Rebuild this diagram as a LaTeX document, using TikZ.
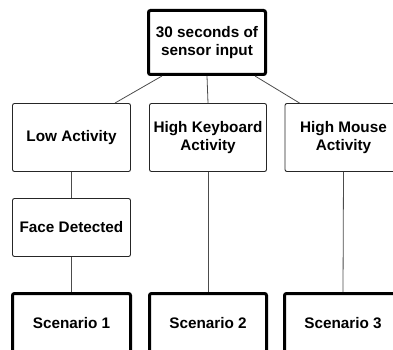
\documentclass[tikz,border=0pt]{standalone}
\usepackage{fontspec}
\setmainfont{Liberation Sans}
\begin{document}
\begin{tikzpicture}[x=1pt,y=-1pt,
  box/.style={draw=black!85, line width=0.9pt, rounded corners=2pt, fill=white,
    align=center, inner sep=0pt, font=\fontsize{15.3}{17.5}\selectfont\bfseries,
    minimum width=118pt, minimum height=68pt},
  heavybox/.style={box, draw=black, line width=3pt},
  link/.style={draw=black!70, line width=0.8pt}]
\useasboundingbox (0,0) rectangle (393,350);
% decision boxes
\node[heavybox, minimum width=117pt, minimum height=64pt] (top) at (207,42.5) {30 seconds of\\sensor input};
\node[box] (low) at (71.5,137.5) {Low Activity};
\node[box, minimum width=117pt] (kb) at (208,137.5) {High Keyboard\\Activity};
\node[box, minimum width=117pt] (mouse) at (343.5,137.5) {High Mouse\\Activity};
\node[box, minimum height=58pt] (face) at (71.5,227.5) {Face Detected};
% outcome boxes
\node[heavybox, minimum width=118pt, minimum height=59pt] (s1) at (71.5,323) {Scenario 1};
\node[heavybox, minimum width=117pt, minimum height=59pt] (s2) at (208,323) {Scenario 2};
\node[heavybox, minimum width=117pt, minimum height=59pt] (s3) at (343,323) {Scenario 3};
% connectors
\draw[link] ([xshift=15pt]top.south west) -- ([xshift=-16pt]low.north east);
\draw[link] (top.south) -- (kb.north);
\draw[link] ([xshift=-12pt]top.south east) -- ([xshift=15pt]mouse.north west);
\draw[link] (low.south) -- (face.north);
\draw[link] (face.south) -- (s1.north);
\draw[link] (kb.south) -- (s2.north);
\draw[link] (mouse.south) -- (s3.north);
\end{tikzpicture}
\end{document}
